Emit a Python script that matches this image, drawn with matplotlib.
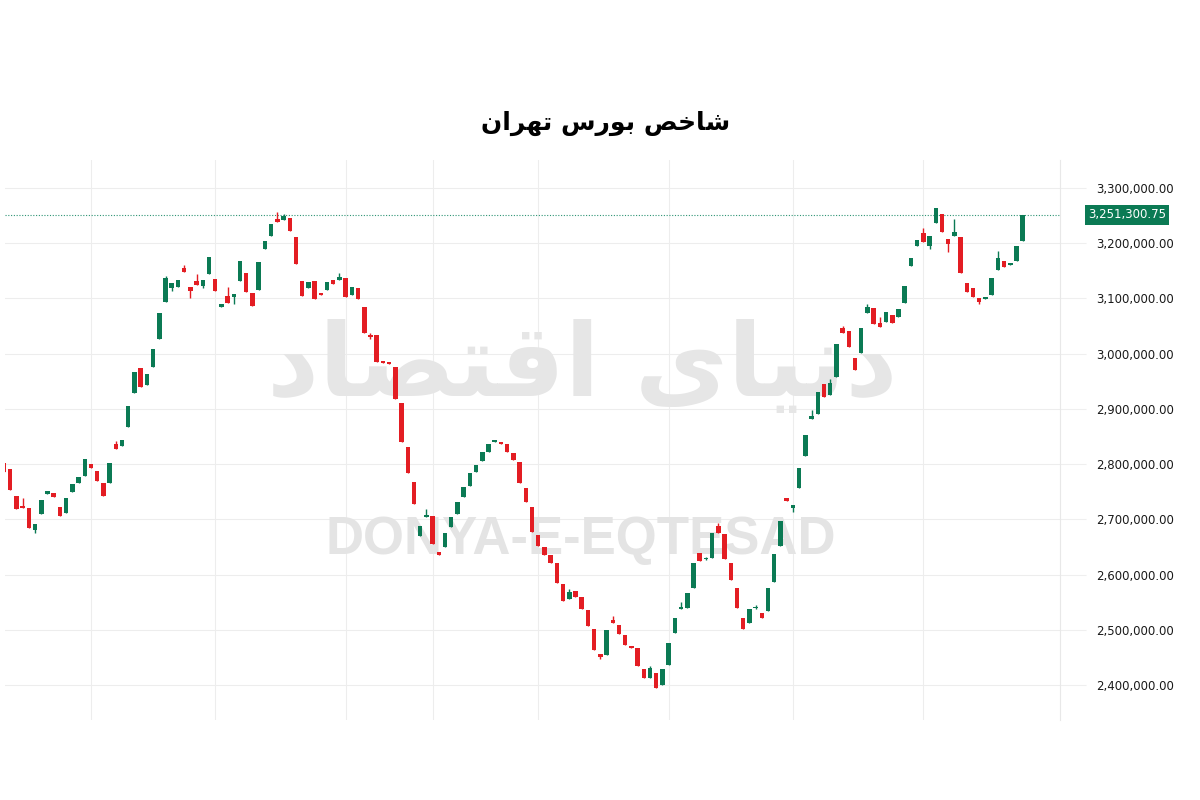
import matplotlib
matplotlib.use("Agg")
import matplotlib.pyplot as plt
import numpy as np
from matplotlib.ticker import FuncFormatter

# Daily candles of the Tehran stock exchange index, values in thousands
opens_k = [
    2802.0, 2791.1, 2742.2, 2724.1, 2720.5, 2680.7, 2709.6, 2745.9, 2747.7, 2722.3,
    2711.5, 2749.5, 2765.8, 2778.5, 2800.2, 2787.5, 2765.8, 2765.8, 2836.4, 2832.8,
    2867.2, 2928.8, 2974.1, 2943.3, 2975.9, 3026.6, 3093.6, 3118.9, 3120.8, 3155.1,
    3120.8, 3131.6, 3122.6, 3144.3, 3135.2, 3084.5, 3104.5, 3102.6, 3131.6, 3146.1,
    3109.9, 3115.3, 3189.6, 3213.1, 3243.9, 3242.1, 3245.7, 3211.3, 3131.6, 3118.9,
    3131.6, 3109.9, 3115.3, 3133.4, 3133.4, 3137.0, 3106.3, 3118.9, 3084.5, 3033.8,
    3033.8, 2986.7, 2984.9, 2975.9, 2910.7, 2831.0, 2767.6, 2669.8, 2704.2, 2706.0,
    2640.8, 2649.9, 2686.1, 2709.6, 2740.4, 2760.3, 2785.7, 2805.6, 2821.9, 2840.0,
    2840.0, 2836.4, 2820.1, 2803.8, 2756.7, 2722.3, 2671.6, 2649.9, 2635.4, 2620.9,
    2582.9, 2555.7, 2570.2, 2559.3, 2535.8, 2501.4, 2456.1, 2454.3, 2517.7, 2508.6,
    2490.5, 2470.6, 2467.0, 2429.0, 2412.7, 2421.7, 2400.0, 2436.2, 2494.1, 2537.6,
    2539.4, 2575.6, 2639.0, 2628.3, 2630.1, 2687.9, 2673.4, 2620.9, 2575.6, 2521.3,
    2512.3, 2539.4, 2530.4, 2534.0, 2586.5, 2651.7, 2738.6, 2720.5, 2756.7, 2814.7,
    2881.7, 2890.7, 2945.1, 2925.2, 2957.7, 3046.5, 3041.0, 2992.2, 3001.2, 3073.7,
    3082.7, 3055.5, 3057.3, 3070.0, 3066.4, 3091.8, 3158.8, 3195.0, 3218.5, 3195.0,
    3236.6, 3253.0, 3207.7, 3213.1, 3211.3, 3128.0, 3118.9, 3100.8, 3099.0, 3106.7,
    3151.5, 3167.8, 3160.6, 3167.8, 3204.0,
]
closes_k = [
    2785.7, 2753.1, 2718.7, 2720.5, 2684.3, 2691.5, 2735.0, 2751.3, 2740.4, 2706.0,
    2738.6, 2764.0, 2776.7, 2809.3, 2793.0, 2769.4, 2742.2, 2802.0, 2827.3, 2843.6,
    2905.2, 2966.8, 2939.7, 2963.2, 3008.4, 3073.7, 3137.0, 3128.0, 3133.4, 3147.9,
    3113.5, 3124.4, 3133.4, 3175.1, 3113.5, 3090.0, 3091.8, 3108.1, 3167.8, 3111.7,
    3086.3, 3166.0, 3204.0, 3234.8, 3238.5, 3249.3, 3222.2, 3162.4, 3104.5, 3129.8,
    3099.0, 3106.3, 3129.8, 3126.2, 3138.9, 3102.6, 3120.8, 3099.0, 3037.4, 3030.2,
    2984.9, 2983.1, 2981.3, 2917.9, 2840.0, 2783.9, 2727.8, 2687.9, 2707.8, 2655.3,
    2635.4, 2675.2, 2704.2, 2731.4, 2758.5, 2783.9, 2798.4, 2821.9, 2836.4, 2843.6,
    2836.4, 2821.9, 2807.4, 2765.8, 2731.4, 2677.0, 2651.7, 2635.4, 2620.9, 2584.7,
    2552.1, 2568.4, 2559.3, 2537.6, 2506.8, 2463.3, 2450.6, 2499.5, 2512.3, 2492.3,
    2472.4, 2467.0, 2434.4, 2412.7, 2430.8, 2394.7, 2429.0, 2476.0, 2521.3, 2541.2,
    2566.6, 2620.9, 2624.5, 2630.1, 2675.2, 2675.2, 2628.3, 2590.1, 2539.4, 2501.4,
    2537.6, 2541.2, 2521.3, 2575.6, 2637.2, 2697.0, 2733.2, 2726.0, 2793.0, 2852.7,
    2887.1, 2930.6, 2921.5, 2946.9, 3017.5, 3037.4, 3012.1, 2970.4, 3046.5, 3084.5,
    3053.7, 3048.3, 3075.5, 3055.5, 3080.9, 3122.6, 3173.3, 3205.9, 3202.2, 3213.1,
    3263.8, 3220.3, 3198.6, 3220.3, 3146.1, 3111.7, 3102.6, 3093.6, 3102.6, 3137.0,
    3173.3, 3157.0, 3164.2, 3195.0, 3251.30075,
]
# visible wick tips (candle index -> value in thousands); other candles show no wick
wick_highs_k = {3: 2738.6, 18: 2841.8, 26: 3140.7, 29: 3160.6, 31: 3144.3, 36: 3120.8,
                44: 3256.6, 45: 3253.0, 54: 3146.1, 59: 3037.0, 68: 2718.7, 91: 2573.8,
                98: 2524.9, 104: 2434.4, 109: 2550.3, 113: 2632.0, 115: 2693.3, 121: 2544.0,
                130: 2898.0, 133: 2954.1, 135: 3050.1, 139: 3090.0, 141: 3066.4,
                148: 3227.6, 153: 3243.9, 160: 3186.0}
wick_lows_k = {5: 2675.2, 27: 3113.5, 30: 3100.8, 32: 3118.9, 37: 3090.0, 59: 3027.0,
               96: 2447.0, 113: 2626.0, 121: 2537.0, 127: 2713.3, 149: 3189.6,
               152: 3184.1, 157: 3090.0}
# candle index where each month starts (vertical grid lines)
month_starts = [14, 34, 55, 69, 86, 107, 127, 148]
price_levels = list(range(2400000, 3300001, 100000))

# title / watermark: "شاخص بورس تهران" and "دنیای اقتصاد" written in shaped, visual order
title_text = "\uFEE5\uFE8D\uFEAE\uFEEC\uFE97 \uFEB1\uFEAD\uFEEE\uFE91 \uFEBA\uFEA7\uFE8E\uFEB7"
watermark_fa = "\uFEA9\uFE8E\uFEBC\uFE98\uFED7\uFE8D \uFEEF\uFE8E\uFEF4\uFEE7\uFEA9"
watermark_en = "DONYA-E-EQTESAD"

opens = np.array(opens_k) * 1000
closes = np.array(closes_k) * 1000
highs = np.maximum(opens, closes)
lows = np.minimum(opens, closes)
for i, v in wick_highs_k.items():
    highs[i] = v * 1000
for i, v in wick_lows_k.items():
    lows[i] = v * 1000
last = closes[-1]

GREEN = '#0b7a54'
RED = '#e31d23'

fig = plt.figure(figsize=(12, 8), dpi=100)
ax = fig.add_axes([5 / 1200, 80 / 800, 1055 / 1200, 560 / 800])

# watermarks, placed in figure coords but drawn under the candles
ax.text(0.485, 0.54, watermark_fa, transform=fig.transFigure, ha='center', va='center',
        fontsize=73, fontweight='bold', color='#e6e6e6', family=['DejaVu Sans'],
        zorder=1, clip_on=False)
ax.text(0.484, 0.325, watermark_en, transform=fig.transFigure, ha='center', va='center',
        fontsize=38, fontweight='bold', color='#e4e4e4',
        family=['Liberation Sans', 'DejaVu Sans'], zorder=1, clip_on=False)

x = np.arange(len(opens))
colors = [GREEN if c >= o else RED for o, c in zip(opens, closes)]
ax.vlines(x, lows, highs, colors=colors, linewidth=1, zorder=3)
body_bottom = np.minimum(opens, closes)
body_height = np.maximum(np.abs(closes - opens), 1800)
ax.bar(x, body_height, bottom=body_bottom, width=0.72, color=colors, linewidth=0, zorder=4)

ax.axhline(last, color='#2e9474', linestyle=(0, (1, 1.5)), linewidth=0.8, zorder=2)

ax.set_xlim(0.16, 170.0)
ax.set_ylim(2336600, 3350700)

ax.set_xticks(month_starts)
ax.set_xticklabels([])
ax.set_yticks(price_levels)
ax.yaxis.set_major_formatter(FuncFormatter(lambda v, p: f'{v:,.2f}'))
ax.yaxis.tick_right()
ax.tick_params(axis='x', length=0)
ax.tick_params(axis='y', length=19, color='#efefef', pad=7, labelsize=8.5, labelcolor='#1a1a1a')
ax.grid(True, color='#ededed', linewidth=0.8, zorder=0)
ax.set_axisbelow(True)
for s in ['top', 'left', 'bottom']:
    ax.spines[s].set_visible(False)
ax.spines['right'].set_color('#e8e8e8')

ax.text(1.0265, last, f'{last:,.2f}', transform=ax.get_yaxis_transform(), ha='left',
        va='center', color='white', fontsize=8.5, clip_on=False,
        bbox=dict(boxstyle='square,pad=0.28', fc=GREEN, ec='none'))

fig.text(0.505, 0.846, title_text, ha='center', va='center', fontsize=18,
         fontweight='bold', family=['DejaVu Sans'])

fig.savefig('out.png', dpi=100, facecolor='white')
